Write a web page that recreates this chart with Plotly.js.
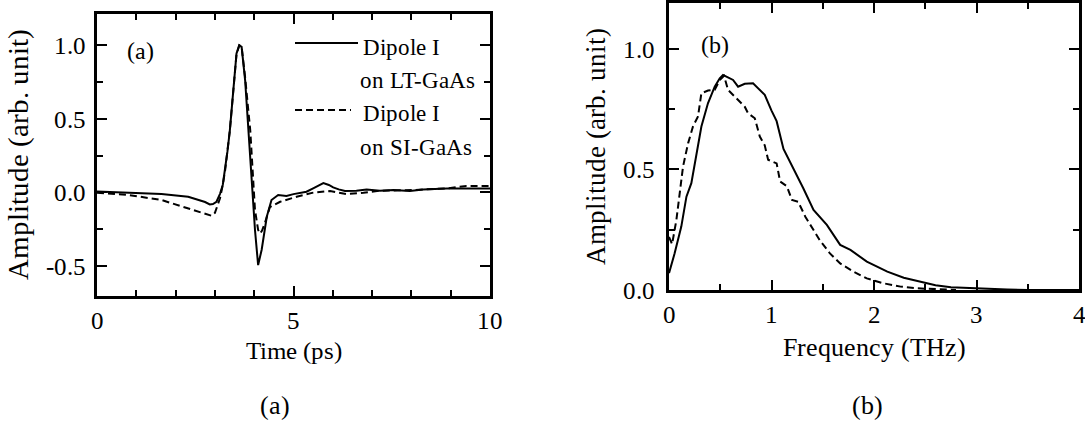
<!DOCTYPE html>
<html>
<head>
<meta charset="utf-8">
<script src="https://cdn.plot.ly/plotly-3.0.1.min.js"></script>
<style>
@font-face { font-family: "ChartSerif"; src: local("Liberation Serif"), local("LiberationSerif"), local("Liberation Serif Regular"), local("LiberationSerif-Regular"); }
html,body{margin:0;padding:0;background:#fff;font-family:"Liberation Serif", serif;}
#chart{width:1085px;height:425px;font-family:"Liberation Serif", serif;}
</style>
</head>
<body>
<div id="chart"></div>
<script>
// ---- Panel (a): time-domain waveforms ----
const timeLT = [0, 0.8, 1.64, 2.32, 2.62, 2.75, 2.87, 2.95, 3.04, 3.13, 3.2, 3.26, 3.32, 3.38, 3.47, 3.55, 3.62, 3.68, 3.77, 3.85, 3.94, 4.02, 4.1, 4.19, 4.32, 4.44, 4.61, 4.82, 5.0, 5.17, 5.33, 5.5, 5.62, 5.76, 5.9, 6.01, 6.15, 6.31, 6.6, 6.86, 7.2, 7.54, 7.96, 8.3, 8.9, 9.4, 10];
const ampLT  = [0.005, -0.003, -0.012, -0.03, -0.052, -0.066, -0.082, -0.08, -0.064, -0.01, 0.05, 0.15, 0.28, 0.42, 0.70, 0.945, 1.0, 0.99, 0.76, 0.42, 0.06, -0.256, -0.495, -0.39, -0.166, -0.052, -0.018, -0.025, -0.012, -0.002, 0.004, 0.027, 0.045, 0.063, 0.05, 0.034, 0.02, 0.009, 0.011, 0.02, 0.011, 0.016, 0.009, 0.02, 0.027, 0.027, 0.027];

const timeSI = [0, 0.8, 1.64, 2.32, 2.6, 2.75, 2.92, 3.0, 3.13, 3.2, 3.26, 3.38, 3.47, 3.55, 3.62, 3.68, 3.77, 3.85, 3.9, 3.97, 4.02, 4.1, 4.15, 4.2, 4.27, 4.4, 4.66, 5.08, 5.5, 5.93, 6.35, 6.78, 7.2, 8.05, 8.9, 9.4, 10];
const ampSI  = [-0.003, -0.018, -0.052, -0.11, -0.135, -0.145, -0.16, -0.14, -0.04, 0.05, 0.15, 0.42, 0.70, 0.94, 1.0, 0.99, 0.78, 0.56, 0.42, 0.105, -0.12, -0.256, -0.28, -0.26, -0.21, -0.1, -0.064, -0.03, -0.002, 0.009, -0.012, -0.003, 0.011, 0.016, 0.027, 0.043, 0.043];

// ---- Panel (b): amplitude spectra ----
const freqLT = [0, 0.055, 0.12, 0.17, 0.218, 0.267, 0.316, 0.38, 0.446, 0.495, 0.527, 0.56, 0.593, 0.625, 0.674, 0.739, 0.82, 0.869, 0.934, 0.999, 1.05, 1.117, 1.214, 1.31, 1.41, 1.54, 1.67, 1.77, 1.93, 2.13, 2.29, 2.45, 2.6, 2.75, 3.0, 3.3, 3.5, 4.0];
const specLT = [0.07, 0.152, 0.263, 0.387, 0.443, 0.553, 0.678, 0.774, 0.843, 0.878, 0.892, 0.885, 0.878, 0.871, 0.843, 0.855, 0.857, 0.836, 0.809, 0.745, 0.7, 0.585, 0.505, 0.422, 0.332, 0.27, 0.187, 0.166, 0.118, 0.076, 0.051, 0.035, 0.02, 0.011, 0.006, 0.002, 0.0, 0.0];

const freqSI = [0, 0.03, 0.072, 0.104, 0.137, 0.186, 0.234, 0.283, 0.316, 0.381, 0.446, 0.495, 0.537, 0.576, 0.641, 0.706, 0.739, 0.771, 0.837, 0.886, 0.934, 0.967, 1.05, 1.084, 1.15, 1.2, 1.26, 1.33, 1.41, 1.47, 1.57, 1.67, 1.8, 1.93, 2.09, 2.26, 2.42, 2.6, 2.8];
const specSI = [0.22, 0.19, 0.29, 0.4, 0.512, 0.608, 0.678, 0.72, 0.816, 0.827, 0.83, 0.871, 0.888, 0.83, 0.802, 0.775, 0.76, 0.733, 0.712, 0.636, 0.6, 0.54, 0.525, 0.45, 0.43, 0.373, 0.366, 0.304, 0.249, 0.207, 0.152, 0.11, 0.076, 0.048, 0.028, 0.014, 0.007, 0.003, 0.0];

// ---- Tick labels and texts ----
const yTickValsA = [-0.5, 0, 0.5, 1.0];
const yTickTextA = ["-0.5", "0.0", "0.5", "1.0"];
const xTickValsA = [0, 5, 10];
const xTickTextA = ["0", "5", "10"];
const yTickValsB = [0, 0.5, 1.0];
const yTickTextB = ["0.0", "0.5", "1.0"];
const xTickValsB = [0, 1, 2, 3, 4];
const xTickTextB = ["0", "1", "2", "3", "4"];
const seriesNames = ["Dipole I<br>on LT-GaAs", "Dipole I<br>on SI-GaAs"];

const SERIF = "ChartSerif, Liberation Serif, serif";
const BLACK = "#000";
const DASH = "7px,4px";

function draw() {
  const traces = [
    {x: timeLT, y: ampLT, xaxis: "x", yaxis: "y", mode: "lines", name: seriesNames[0], line: {color: BLACK, width: 2}, showlegend: false},
    {x: timeSI, y: ampSI, xaxis: "x", yaxis: "y", mode: "lines", name: seriesNames[1], line: {color: BLACK, width: 2, dash: DASH}, showlegend: false},
    {x: freqLT, y: specLT, xaxis: "x2", yaxis: "y2", mode: "lines", name: seriesNames[0], line: {color: BLACK, width: 2}, showlegend: false},
    {x: freqSI, y: specSI, xaxis: "x2", yaxis: "y2", mode: "lines", name: seriesNames[1], line: {color: BLACK, width: 2, dash: DASH}, showlegend: false}
  ];

  function axisBase(extra) {
    return Object.assign({
      showgrid: false, zeroline: false, showline: true, linecolor: BLACK, linewidth: 2.5,
      mirror: "allticks", ticks: "inside", ticklen: 10, tickwidth: 2, tickcolor: BLACK,
      ticklabeloverflow: "allow",
      tickfont: {family: SERIF, size: 25, color: BLACK}, fixedrange: true
    }, extra);
  }

  const W = 1085, H = 425;
  const fx = v => v / W;
  const fy = v => 1 - v / H;

  function note(x, y, text, size, anchor) {
    return {xref: "paper", yref: "paper", x: fx(x), y: fy(y), xanchor: anchor || "left", yanchor: "middle",
            showarrow: false, align: "left", text: text, font: {family: SERIF, size: size, color: BLACK}};
  }

  const layout = {
    width: W, height: H,
    margin: {l: 0, r: 0, t: 0, b: 0},
    paper_bgcolor: "#fff", plot_bgcolor: "#fff",
    showlegend: false,
    xaxis: axisBase({
      domain: [fx(97), fx(490)], anchor: "y", range: [0, 10],
      tickmode: "array", tickvals: xTickValsA, ticktext: xTickTextA,
      minor: {dtick: 1, ticks: "inside", ticklen: 6, tickwidth: 2, tickcolor: BLACK},
      title: {text: "Time (ps)", font: {family: SERIF, size: 25, color: BLACK}, standoff: 9}
    }),
    yaxis: axisBase({
      domain: [fy(296), fy(14)], anchor: "x", range: [-0.705, 1.213],
      tickmode: "array", tickvals: yTickValsA, ticktext: yTickTextA, ticklabelstandoff: 3,
      minor: {tickvals: [-0.25, 0.25, 0.75], ticks: "inside", ticklen: 6, tickwidth: 2, tickcolor: BLACK},
      title: {text: "Amplitude (arb. unit)", font: {family: SERIF, size: 29, color: BLACK}, standoff: 10}
    }),
    xaxis2: axisBase({
      domain: [fx(669), fx(1079)], anchor: "y2", range: [0, 4],
      tickmode: "array", tickvals: xTickValsB, ticktext: xTickTextB,
      minor: {dtick: 0.5, ticks: "inside", ticklen: 6, tickwidth: 2, tickcolor: BLACK},
      title: {text: "Frequency (THz)", font: {family: SERIF, size: 26, color: BLACK}, standoff: 12}
    }),
    yaxis2: axisBase({
      domain: [fy(290), fy(3)], anchor: "x2", range: [0, 1.19],
      tickmode: "array", tickvals: yTickValsB, ticktext: yTickTextB, ticklabelstandoff: 6,
      minor: {tickvals: [0.25, 0.75], ticks: "inside", ticklen: 6, tickwidth: 2, tickcolor: BLACK},
      title: {text: "Amplitude (arb. unit)", font: {family: SERIF, size: 27, color: BLACK}, standoff: 10}
    }),
    shapes: [
      {type: "line", xref: "paper", yref: "paper", x0: fx(295), x1: fx(358), y0: fy(43), y1: fy(43), line: {color: BLACK, width: 2}},
      {type: "line", xref: "paper", yref: "paper", x0: fx(295), x1: fx(351), y0: fy(110), y1: fy(110), line: {color: BLACK, width: 2, dash: DASH}}
    ],
    annotations: [
      note(361, 47, "Dipole I", 23),
      note(358, 80, "on LT-GaAs", 23),
      note(361, 113, "Dipole I", 23),
      note(358, 147, "on SI-GaAs", 23),
      note(141, 51, "(a)", 24, "center"),
      note(715, 45, "(b)", 24, "center"),
      note(275, 405, "(a)", 26, "center"),
      note(867, 405, "(b)", 26, "center")
    ]
  };

  Plotly.newPlot("chart", traces, layout, {displayModeBar: false});
}

let drawn = false;
function drawOnce() { if (!drawn) { drawn = true; draw(); } }
if (document.fonts && document.fonts.load) {
  document.fonts.load('25px "ChartSerif"').then(drawOnce, drawOnce);
  setTimeout(drawOnce, 1500);
} else {
  drawOnce();
}
</script>
</body>
</html>
